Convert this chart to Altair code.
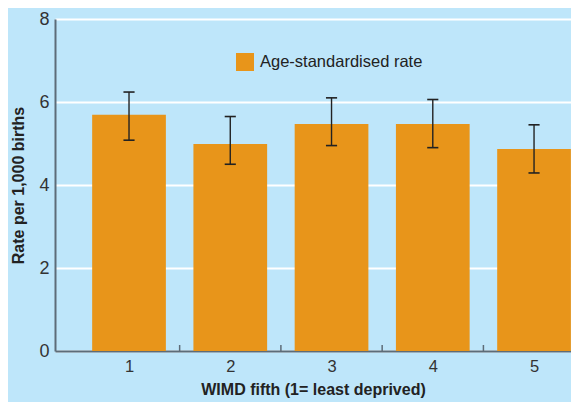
import altair as alt
import pandas as pd

categories = [1, 2, 3, 4, 5]
rates = [5.69, 4.99, 5.47, 5.47, 4.87]
lower = [5.08, 4.50, 4.95, 4.90, 4.29]
upper = [6.24, 5.65, 6.10, 6.06, 5.45]
series_name = "Age-standardised rate"
y_ticks = [0, 2, 4, 6, 8]

BG = "#BEE6FA"
BAR = "#E8951A"
AXIS = "#5D6C78"
FONT = "Liberation Sans"

half_bar = 0.364
half_cap = 0.055

df = pd.DataFrame({
    "cat": categories,
    "rate": rates,
    "lo": lower,
    "hi": upper,
    "series": [series_name] * len(categories),
})
df["x0"] = df["cat"] - half_bar
df["x1"] = df["cat"] + half_bar
df["c0"] = df["cat"] - half_cap
df["c1"] = df["cat"] + half_cap

bounds = pd.DataFrame({"b": [c + 0.5 for c in categories[:-1]]})

xdom = [0.269, 5.365]
xscale = alt.Scale(domain=xdom, nice=False, zero=False)
yscale = alt.Scale(domain=[0, 8], nice=False)

x_axis = alt.Axis(values=categories, ticks=False, grid=False, domain=True,
                  domainColor=AXIS, domainWidth=2, labelFontSize=16.5,
                  labelColor="#333333", labelPadding=7, labelFont=FONT,
                  title="WIMD fifth (1= least deprived)", titleFont=FONT,
                  titleFontSize=16, titleFontWeight="bold", titleColor="#222222",
                  titlePadding=7, format="d")
y_axis = alt.Axis(values=y_ticks, ticks=False, grid=True, gridColor="white",
                  gridWidth=2, domain=True, domainColor=AXIS, domainWidth=2,
                  labelFontSize=18, labelColor="#333333", labelPadding=6,
                  labelFont=FONT, title="Rate per 1,000 births", titleFont=FONT,
                  titleFontSize=16, titleFontWeight="bold", titleColor="#222222",
                  titlePadding=12)

bars = alt.Chart(df).mark_bar().encode(
    x=alt.X("x0:Q", scale=xscale, axis=x_axis),
    x2="x1:Q",
    y=alt.Y("rate:Q", scale=yscale, axis=y_axis),
    y2=alt.datum(0),
    color=alt.Color("series:N", scale=alt.Scale(range=[BAR]),
                    legend=alt.Legend(orient="none", legendX=181, legendY=34,
                                      title=None, symbolType="square",
                                      symbolSize=324, symbolStrokeWidth=0,
                                      labelFontSize=16.5, labelFont=FONT,
                                      labelLimit=400,
                                      labelColor="#222222", labelOffset=6)),
)

err = alt.Chart(df).mark_rule(color="#222222", strokeWidth=1.4).encode(
    x="cat:Q", y="lo:Q", y2="hi:Q")
cap_hi = alt.Chart(df).mark_rule(color="#222222", strokeWidth=1.6).encode(
    x="c0:Q", x2="c1:Q", y="hi:Q")
cap_lo = alt.Chart(df).mark_rule(color="#222222", strokeWidth=1.6).encode(
    x="c0:Q", x2="c1:Q", y="lo:Q")

ticks = alt.Chart(bounds).mark_rule(color=AXIS, strokeWidth=1.5).encode(
    x="b:Q", y=alt.value(332), y2=alt.value(326))

chart = alt.layer(bars, err, cap_hi, cap_lo, ticks).properties(
    width=516, height=332, background=BG,
    autosize=alt.AutoSizeParams(type="none"),
    padding={"left": 47, "top": 11, "right": 0, "bottom": 51},
).configure_view(stroke=None)

chart.save("out.html", embed_options={"renderer": "svg", "actions": False})
